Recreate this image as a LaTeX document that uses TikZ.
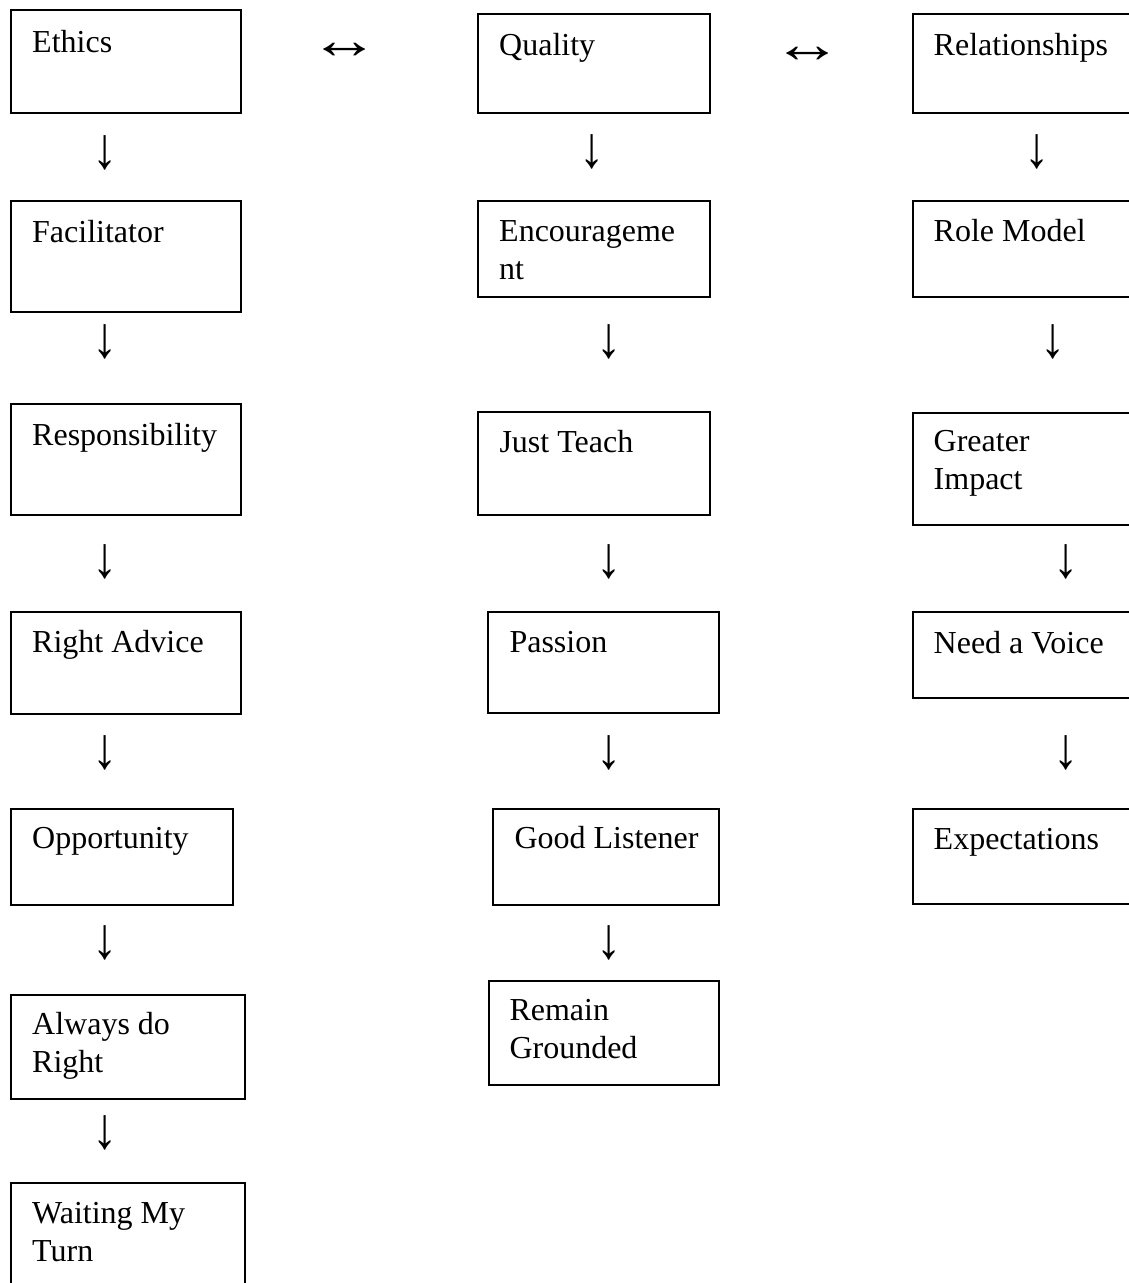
\documentclass[tikz,border=0pt]{standalone}
\usepackage{fontspec}
\usepackage{graphicx}
\setmainfont{Liberation Serif}
\usetikzlibrary{fit}
\newcommand\dnarrow{\scalebox{1.05}[1.22]{↓}}
\newcommand\lrarrow{\scalebox{1.3}[1]{↔}}
\tikzset{
  boxst/.style={draw=black, line width=2pt, inner sep=0pt},
  lbl/.style={inner sep=0pt, anchor=base west, align=left, font=\fontsize{32}{38}\selectfont},
  arr/.style={inner sep=0pt, anchor=center, font=\fontsize{48}{50}\selectfont},
  harr/.style={inner sep=0pt, anchor=center, font=\fontsize{54}{56}\selectfont},
}
\begin{document}
\begin{tikzpicture}[x=1pt, y=-1pt]
\useasboundingbox (0,0) rectangle (1129,1283);
\clip (0,0) rectangle (1129,1283);
% column 1
\node[boxst, fit={(10.5,9.5) (241,112.5)}] (ethics) {};
\node[lbl] (ethicsT) at (32,52) {Ethics};
\node[boxst, fit={(10.5,201) (241,311.5)}] (facil) {};
\node[lbl] (facilT) at (32,242) {Facilitator};
\node[boxst, fit={(10.5,403.7) (241,515.3)}] (resp) {};
\node[lbl] (respT) at (32,445) {Responsibility};
\node[boxst, fit={(10.5,612) (241,714)}] (advice) {};
\node[lbl] (adviceT) at (32,652) {Right Advice};
\node[boxst, fit={(10.5,808.7) (232.7,905)}] (opp) {};
\node[lbl] (oppT) at (32,848.3) {Opportunity};
\node[boxst, fit={(10.5,995) (245.3,1099)}] (always) {};
\node[lbl] (alwaysT) at (32,1072.3) {Always do\\Right};
\node[boxst, fit={(10.5,1183) (245.3,1300)}] (waiting) {};
\node[lbl] (waitingT) at (32,1261) {Waiting My\\Turn};
% column 2
\node[boxst, fit={(478.3,14) (709.5,112.7)}] (quality) {};
\node[lbl] (qualityT) at (499,55) {Quality};
\node[boxst, fit={(478.3,200.7) (709.5,297)}] (encour) {};
\node[lbl] (encourT) at (499,279) {Encourageme\\nt};
\node[boxst, fit={(478.3,412.3) (709.5,515)}] (teach) {};
\node[lbl] (teachT) at (499.3,452.3) {Just Teach};
\node[boxst, fit={(488.3,611.7) (719.3,713.3)}] (passion) {};
\node[lbl] (passionT) at (509.3,652.3) {Passion};
\node[boxst, fit={(493.3,809) (719.3,905)}] (listener) {};
\node[lbl] (listenerT) at (514.3,848.3) {Good Listener};
\node[boxst, fit={(489,981) (719.3,1085)}] (grounded) {};
\node[lbl] (groundedT) at (509.3,1058.5) {Remain\\Grounded};
% column 3
\node[boxst, fit={(912.8,14) (1145,112.7)}] (relat) {};
\node[lbl] (relatT) at (933.5,55) {Relationships};
\node[boxst, fit={(912.8,200.7) (1145,296.7)}] (role) {};
\node[lbl] (roleT) at (933.5,241) {Role Model};
\node[boxst, fit={(913.3,412.7) (1145,525)}] (impact) {};
\node[lbl] (impactT) at (933.5,489.5) {Greater\\Impact};
\node[boxst, fit={(913.3,611.7) (1145,698.3)}] (voice) {};
\node[lbl] (voiceT) at (933.5,653.3) {Need a Voice};
\node[boxst, fit={(913.3,809) (1145,904)}] (expect) {};
\node[lbl] (expectT) at (933.5,849.3) {Expectations};
% horizontal arrows
\node[harr] (h1) at (345,51) {\lrarrow};
\node[harr] (h2) at (808,55) {\lrarrow};
% vertical arrows column 1
\node[arr] (a1) at (105,152.5) {\dnarrow};
\node[arr] (a2) at (105,342) {\dnarrow};
\node[arr] (a3) at (105,562.3) {\dnarrow};
\node[arr] (a4) at (105,752.8) {\dnarrow};
\node[arr] (a5) at (105,942.8) {\dnarrow};
\node[arr] (a6) at (105,1133) {\dnarrow};
% column 2
\node[arr] (b1) at (592,152.3) {\dnarrow};
\node[arr] (b2) at (609,342.2) {\dnarrow};
\node[arr] (b3) at (609,562.2) {\dnarrow};
\node[arr] (b4) at (609,753) {\dnarrow};
\node[arr] (b5) at (609,943) {\dnarrow};
% column 3
\node[arr] (c1) at (1037,152.2) {\dnarrow};
\node[arr] (c2) at (1053.3,342.2) {\dnarrow};
\node[arr] (c3) at (1065.7,562.2) {\dnarrow};
\node[arr] (c4) at (1065.7,753) {\dnarrow};
\end{tikzpicture}
\end{document}
